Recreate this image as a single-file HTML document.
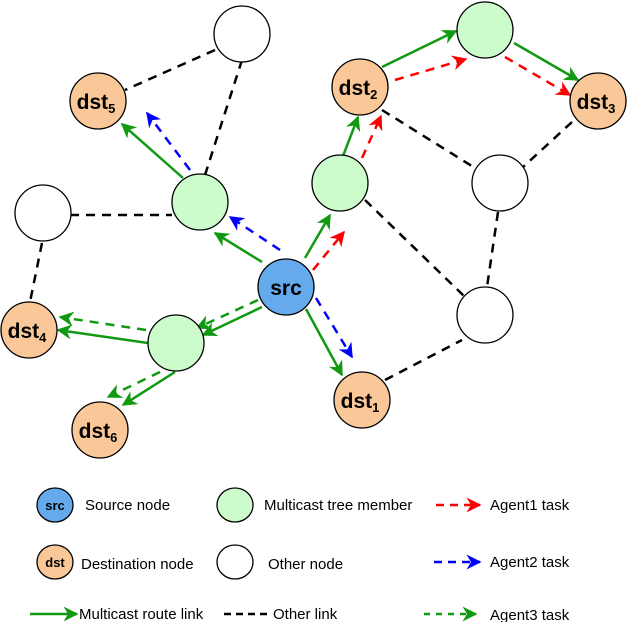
<!DOCTYPE html>
<html><head><style>body{margin:0;background:#fff}svg{display:block}text{font-family:"Liberation Sans",sans-serif}</style></head>
<body>
<svg width="630" height="622" viewBox="0 0 630 622" xmlns="http://www.w3.org/2000/svg">
<defs>
<marker id="ag" viewBox="0 0 10 10" refX="9" refY="5" markerWidth="15" markerHeight="15" markerUnits="userSpaceOnUse" orient="auto"><path d="M0,0 L10,5 L0,10 L3,5 z" fill="#119911"/></marker>
<marker id="ar" viewBox="0 0 10 10" refX="9" refY="5" markerWidth="15" markerHeight="15" markerUnits="userSpaceOnUse" orient="auto"><path d="M0,0 L10,5 L0,10 L3,5 z" fill="#ff0000"/></marker>
<marker id="ab" viewBox="0 0 10 10" refX="9" refY="5" markerWidth="15" markerHeight="15" markerUnits="userSpaceOnUse" orient="auto"><path d="M0,0 L10,5 L0,10 L3,5 z" fill="#0000ff"/></marker>
</defs>
<g stroke="#000" stroke-width="2.5" stroke-dasharray="9,7" fill="none">
<line x1="215" y1="50" x2="125" y2="90"/>
<line x1="242" y1="60" x2="205" y2="175"/>
<line x1="70" y1="215" x2="172" y2="215"/>
<line x1="42" y1="243" x2="30" y2="302"/>
<line x1="382" y1="110" x2="475" y2="168"/>
<line x1="572" y1="122" x2="522" y2="168"/>
<line x1="365" y1="200" x2="465" y2="297"/>
<line x1="498" y1="212" x2="487" y2="287"/>
<line x1="385" y1="380" x2="462" y2="340"/>
</g>
<g stroke="#119911" stroke-width="2.5" fill="none" marker-end="url(#ag)">
<line x1="183" y1="178" x2="122" y2="124"/>
<line x1="262" y1="262" x2="215" y2="233"/>
<line x1="305" y1="258" x2="330" y2="215"/>
<line x1="343" y1="156" x2="358" y2="117"/>
<line x1="382" y1="67" x2="456" y2="31"/>
<line x1="514" y1="43" x2="578" y2="80"/>
<line x1="262" y1="307" x2="203" y2="335"/>
<line x1="148" y1="343" x2="58" y2="330"/>
<line x1="175" y1="372" x2="123" y2="405"/>
<line x1="306" y1="309" x2="342" y2="375"/>
</g>
<g stroke-width="2.5" fill="none" stroke-dasharray="9,7">
<line x1="190" y1="170" x2="147" y2="113" stroke="#0000ff" marker-end="url(#ab)"/>
<line x1="280" y1="250" x2="230" y2="217" stroke="#0000ff" marker-end="url(#ab)"/>
<line x1="316" y1="298" x2="352" y2="357" stroke="#0000ff" marker-end="url(#ab)"/>
<line x1="313" y1="270" x2="344" y2="232" stroke="#ff0000" marker-end="url(#ar)"/>
<line x1="362" y1="158" x2="381" y2="116" stroke="#ff0000" marker-end="url(#ar)"/>
<line x1="395" y1="80" x2="466" y2="59" stroke="#ff0000" marker-end="url(#ar)"/>
<line x1="505" y1="57" x2="570" y2="95" stroke="#ff0000" marker-end="url(#ar)"/>
<line x1="258" y1="300" x2="197" y2="328" stroke="#119911" marker-end="url(#ag)"/>
<line x1="146" y1="330" x2="60" y2="317" stroke="#119911" marker-end="url(#ag)"/>
<line x1="160" y1="372" x2="108" y2="397" stroke="#119911" marker-end="url(#ag)"/>
</g>
<g stroke="#000" stroke-width="1.3">
<circle cx="242" cy="34" r="28" fill="#fff"/>
<circle cx="485" cy="30" r="28" fill="#ccfccc"/>
<circle cx="43" cy="213" r="28" fill="#fff"/>
<circle cx="200" cy="202" r="28" fill="#ccfccc"/>
<circle cx="340" cy="183" r="28" fill="#ccfccc"/>
<circle cx="500" cy="183" r="28" fill="#fff"/>
<circle cx="485" cy="315" r="28" fill="#fff"/>
<circle cx="176" cy="343" r="28" fill="#ccfccc"/>
<circle cx="286" cy="287" r="28" fill="#66aaee"/>
<circle cx="98" cy="101" r="28" fill="#fac898"/>
<circle cx="360" cy="87" r="28" fill="#fac898"/>
<circle cx="598" cy="101" r="28" fill="#fac898"/>
<circle cx="29" cy="330" r="28" fill="#fac898"/>
<circle cx="362" cy="400" r="28" fill="#fac898"/>
<circle cx="100" cy="430" r="28" fill="#fac898"/>
</g>
<g font-weight="bold" font-size="21" text-anchor="middle" fill="#000">
<text x="286" y="295">src</text>
<text x="96" y="109">dst<tspan font-size="13" dy="4">5</tspan></text>
<text x="358" y="95">dst<tspan font-size="13" dy="4">2</tspan></text>
<text x="596" y="109">dst<tspan font-size="13" dy="4">3</tspan></text>
<text x="27" y="338">dst<tspan font-size="13" dy="4">4</tspan></text>
<text x="360" y="408">dst<tspan font-size="13" dy="4">1</tspan></text>
<text x="98" y="438">dst<tspan font-size="13" dy="4">6</tspan></text>
</g>
<g stroke="#000" stroke-width="1.3">
<ellipse cx="55" cy="505" rx="18" ry="17" fill="#66aaee"/>
<ellipse cx="55" cy="562" rx="18" ry="17" fill="#fac898"/>
<ellipse cx="235" cy="505" rx="18" ry="17" fill="#ccfccc"/>
<ellipse cx="235" cy="562" rx="18" ry="17" fill="#fff"/>
</g>
<g font-weight="bold" font-size="13" text-anchor="middle"><text x="55" y="510">src</text><text x="55" y="567">dst</text></g>
<g font-size="15" fill="#000">
<text x="85" y="510">Source node</text>
<text x="81" y="569">Destination node</text>
<text x="264" y="510">Multicast tree member</text>
<text x="268" y="569">Other node</text>
<text x="490" y="510">Agent1 task</text>
<text x="490" y="567">Agent2 task</text>
<text x="79" y="619">Multicast route link</text>
<text x="273" y="619">Other link</text>
<text x="490" y="620">Agent3 task</text>
</g>
<g stroke-width="2.5" fill="none">
<line x1="436" y1="505" x2="480" y2="505" stroke="#ff0000" stroke-dasharray="8,6" marker-end="url(#ar)"/>
<line x1="434" y1="562" x2="480" y2="562" stroke="#0000ff" stroke-dasharray="8,6" marker-end="url(#ab)"/>
<line x1="424" y1="614" x2="476" y2="614" stroke="#119911" stroke-dasharray="6,6" marker-end="url(#ag)"/>
<line x1="30" y1="614" x2="77" y2="614" stroke="#119911" marker-end="url(#ag)"/>
<line x1="224" y1="614" x2="268" y2="614" stroke="#000" stroke-dasharray="7,5"/>
</g>
</svg>
</body></html>
